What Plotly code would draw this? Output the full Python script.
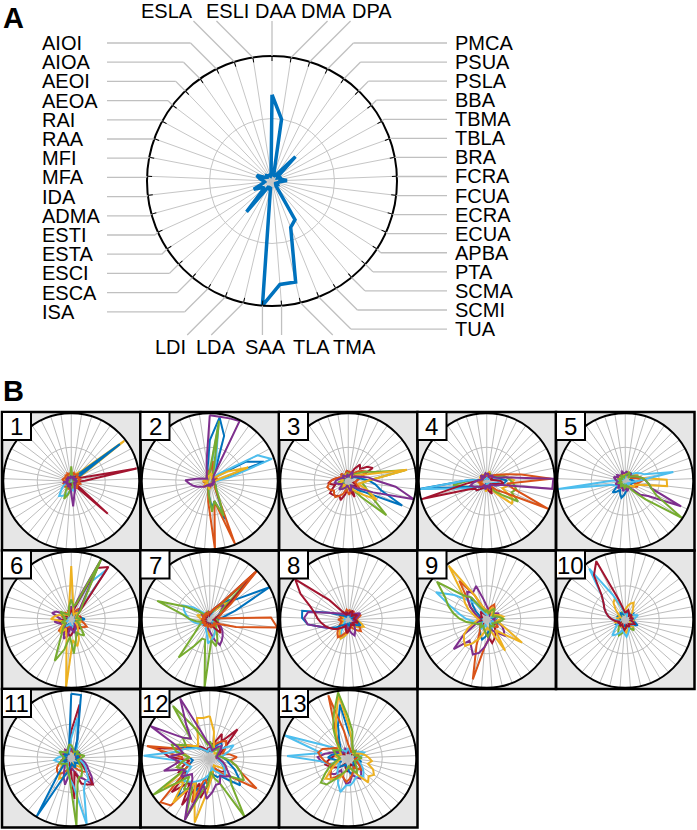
import math
import plotly.graph_objects as go

W, H = 697, 830
FONT = "Liberation Sans, Arial, sans-serif"

# ---------------- data ----------------
spokes = ["DAA", "DMA", "DPA", "PMCA", "PSUA", "PSLA", "BBA", "TBMA", "TBLA", "BRA",
          "FCRA", "FCUA", "ECRA", "ECUA", "APBA", "PTA", "SCMA", "SCMI", "TUA", "TMA",
          "TLA", "SAA", "LDA", "LDI", "ISA", "ESCA", "ESCI", "ESTA", "ESTI", "ADMA",
          "IDA", "MFA", "MFI", "RAA", "RAI", "AEOA", "AEOI", "AIOA", "AIOI", "ESLA", "ESLI"]

top_labels = ["ESLA", "ESLI", "DAA", "DMA", "DPA"]
right_labels = ["PMCA", "PSUA", "PSLA", "BBA", "TBMA", "TBLA", "BRA", "FCRA", "FCUA",
                "ECRA", "ECUA", "APBA", "PTA", "SCMA", "SCMI", "TUA"]
bottom_labels = ["LDI", "LDA", "SAA", "TLA", "TMA"]
left_labels = ["AIOI", "AIOA", "AEOI", "AEOA", "RAI", "RAA", "MFI", "MFA", "IDA", "ADMA",
               "ESTI", "ESTA", "ESCI", "ESCA", "ISA"]

panel_a_values = [0.69, 0.50, 0.04, 0.05, 0.06, 0.27, 0.06, 0.05, 0.08, 0.07,
                  0.12, 0.06, 0.05, 0.04, 0.05, 0.04, 0.05, 0.36, 0.40, 0.83,
                  0.83, 1.00, 0.05, 0.06, 0.05, 0.32, 0.08, 0.10, 0.16, 0.08,
                  0.06, 0.07, 0.10, 0.13, 0.06, 0.05, 0.06, 0.05, 0.05, 0.04, 0.05]

panel_numbers = ["1", "2", "3", "4", "5", "6", "7", "8", "9", "10", "11", "12", "13"]

# colour keys: b=blue o=orange y=yellow p=purple g=green c=cyan r=red ; values in hundredths
cluster_1 = [
    ("y", [10,12,8,10,14,20,98,15,12,10,8,12,10,9,11,8,10,12,9,8,10,7,9,11,8,10,12,9,8,11,10,9,12,8,10,9,11,8,10,9,12]),
    ("b", [5,6,4,5,8,12,90,10,6,5,4,6,5,4,6,5,4,5,6,4,5,6,4,5,7,5,4,6,5,4,5,6,4,5,6,4,5,6,4,5,6]),
    ("r", [6,5,7,6,5,8,10,12,15,98,20,8,6,5,10,72,8,6,5,7,6,5,8,6,5,7,6,5,8,6,7,5,6,8,5,7,6,5,7,6,5]),
    ("o", [12,10,13,11,12,14,10,12,11,13,10,12,14,11,10,12,13,11,10,12,11,13,10,12,11,10,12,13,11,12,10,11,13,12,10,11,12,10,13,11,12]),
    ("c", [4,5,3,4,5,4,3,5,4,3,4,5,6,4,5,8,6,10,12,15,10,14,18,22,25,28,20,15,10,8,6,5,4,5,4,3,5,4,3,4,5]),
    ("g", [22,8,6,5,4,5,4,6,5,4,5,4,6,5,4,6,5,4,6,8,10,12,20,28,15,8,6,5,4,5,4,6,5,4,5,6,4,5,6,5,8]),
    ("p", [8,6,5,7,6,5,6,7,5,6,8,7,6,5,7,6,8,10,15,20,37,12,8,6,10,8,6,7,5,8,12,6,5,7,6,8,5,7,6,5,7]),
]
cluster_2 = [
    ("b", [60,95,70,20,10,8,12,60,85,15,8,6,5,8,10,12,15,20,60,30,40,20,10,8,6,5,4,6,5,4,6,5,4,6,5,4,6,5,4,8,20]),
    ("c", [10,85,30,12,8,10,20,80,97,30,10,6,5,4,6,5,4,6,5,8,10,12,8,6,5,4,6,5,4,6,5,4,6,5,4,6,5,4,6,5,8]),
    ("o", [12,30,15,8,6,5,8,10,12,8,6,5,4,6,8,10,12,20,100,30,100,30,10,8,6,10,12,8,6,5,10,8,6,5,4,6,5,8,10,12,15]),
    ("g", [15,90,20,10,8,6,5,8,6,5,4,6,5,8,10,12,15,25,55,30,45,20,10,8,6,5,8,6,5,4,6,5,4,6,5,8,6,5,4,6,10]),
    ("y", [8,12,10,6,5,8,10,30,60,12,8,6,5,8,6,5,4,6,5,8,10,12,8,6,5,8,12,6,5,4,6,10,8,6,5,4,6,5,4,6,8]),
    ("p", [97,96,97,99,10,8,6,5,7,6,5,8,6,5,7,6,5,8,6,5,7,6,5,8,6,9,12,15,20,25,30,36,20,12,8,6,5,8,10,15,30]),
]
cluster_3 = [
    ("r", [15,12,10,20,30,25,35,41,20,15,12,10,8,12,15,10,8,12,25,15,10,12,20,30,25,28,30,32,25,20,30,25,20,15,10,12,15,10,8,12,15]),
    ("o", [12,15,10,12,15,20,25,30,20,15,12,10,12,15,20,15,12,10,12,15,20,15,12,20,25,30,28,25,30,32,28,25,20,15,12,10,15,12,10,12,15]),
    ("b", [8,6,10,12,8,6,10,12,15,20,30,40,50,87,30,20,10,8,6,10,12,8,6,10,12,8,10,12,8,10,12,8,6,10,8,6,10,8,6,10,8]),
    ("g", [12,10,8,10,12,15,20,30,40,85,30,20,25,30,40,75,30,15,10,8,12,10,8,12,10,15,12,10,8,12,15,10,8,12,10,8,10,12,8,10,12]),
    ("y", [8,10,12,8,6,10,15,20,30,88,30,20,15,30,50,30,20,15,10,8,12,10,8,6,10,12,8,10,12,15,10,8,12,10,8,10,12,8,10,12,8]),
    ("p", [10,8,12,15,10,8,12,15,20,30,40,70,100,40,20,15,10,8,12,15,10,8,6,10,12,15,18,12,10,15,20,18,15,12,10,8,12,10,8,6,10]),
]
cluster_4 = [
    ("y", [10,12,15,10,8,12,15,20,25,30,40,35,30,25,45,50,25,15,12,10,12,15,10,8,12,10,8,12,10,8,12,15,10,8,12,10,8,12,10,8,12]),
    ("g", [6,8,10,12,10,8,10,15,25,30,35,40,45,40,55,30,20,10,8,6,8,10,8,6,8,10,12,15,20,30,50,25,10,8,6,8,10,8,6,8,6]),
    ("b", [6,8,10,6,5,8,10,12,15,20,30,25,20,15,10,8,6,8,10,6,5,8,6,5,8,10,12,15,20,30,100,30,10,8,6,5,8,6,5,8,6]),
    ("c", [6,5,8,6,5,8,6,10,12,15,20,15,10,8,6,5,8,6,5,8,6,5,8,10,12,15,20,20,25,40,98,30,10,8,6,5,8,6,5,8,6]),
    ("r", [8,10,12,8,6,10,12,8,6,10,20,25,15,10,8,6,10,12,20,15,10,8,6,10,12,15,20,20,30,99,30,15,10,8,6,10,12,8,6,10,8]),
    ("o", [8,10,12,8,6,10,15,20,30,52,95,30,40,99,30,20,10,8,6,10,12,8,6,10,8,6,10,12,8,10,12,8,6,10,8,6,10,8,6,10,8]),
    ("p", [10,12,8,6,10,12,10,12,15,30,98,97,20,15,10,8,6,10,12,8,6,10,12,8,6,10,12,15,20,25,20,15,10,8,6,10,12,8,6,10,12]),
]
cluster_5 = [
    ("b", [8,10,12,10,8,10,12,10,8,10,12,15,10,8,10,12,10,8,10,12,15,20,25,20,15,20,25,15,10,8,10,12,10,8,10,12,10,8,10,12,10]),
    ("o", [10,8,12,10,8,15,12,10,15,20,25,20,15,20,15,10,8,12,10,8,12,10,8,12,10,8,12,10,8,12,10,8,12,10,8,12,10,8,12,10,8]),
    ("y", [10,12,15,10,8,12,15,20,20,25,61,62,20,15,15,10,8,12,10,8,12,10,8,6,10,8,6,10,8,6,10,8,6,10,12,8,6,10,8,6,10]),
    ("c", [6,8,10,12,15,15,20,25,30,72,20,10,8,6,5,8,6,5,8,6,5,8,6,5,8,6,10,12,15,20,99,20,8,6,5,8,6,5,8,6,5]),
    ("p", [12,15,10,12,15,10,12,15,20,25,30,35,40,90,40,30,15,10,12,15,10,12,15,10,8,12,15,10,12,15,10,12,15,18,12,15,12,10,12,15,12]),
    ("g", [8,10,12,15,10,8,12,15,20,25,30,35,40,50,99,40,20,10,8,6,8,10,8,6,8,10,8,6,8,10,8,6,8,10,8,6,8,10,8,6,8]),
]
cluster_6 = [
    ("b", [12,10,8,12,15,10,8,12,10,15,20,12,10,8,12,15,10,20,25,15,10,12,15,10,8,12,15,10,8,12,15,10,8,12,10,8,12,10,8,12,10]),
    ("o", [15,12,10,15,20,15,12,10,15,12,10,15,20,25,20,15,12,10,15,12,10,15,12,10,15,20,25,15,12,10,15,12,10,15,12,10,15,12,10,15,12]),
    ("c", [10,12,20,60,90,15,10,8,6,8,10,8,6,8,10,8,6,8,10,12,10,8,6,8,10,12,15,10,8,6,8,10,8,6,8,10,8,6,8,10,8]),
    ("r", [15,12,20,85,95,20,10,8,12,15,10,8,12,10,15,20,15,10,12,15,20,25,20,15,20,25,15,10,12,15,20,10,8,12,10,8,12,10,8,12,10]),
    ("p", [20,15,30,99,25,15,10,8,12,10,8,12,10,8,12,10,8,12,15,20,15,10,25,30,20,15,12,10,15,20,25,15,20,30,25,15,12,10,8,12,15]),
    ("y", [79,20,10,8,12,15,10,8,12,10,8,12,15,10,8,12,15,20,30,40,30,100,30,20,15,25,20,15,10,12,15,30,25,20,15,12,10,8,12,10,20]),
    ("g", [30,20,25,99,30,20,12,10,8,12,15,10,8,12,15,20,30,25,20,30,50,25,45,65,30,20,15,10,12,15,10,8,12,10,15,20,12,10,8,12,20]),
]
cluster_7 = [
    ("y", [8,10,12,15,20,40,20,15,12,10,8,10,12,10,8,10,12,15,20,25,30,20,15,12,10,8,10,12,10,8,10,12,15,20,15,12,10,8,10,12,10]),
    ("p", [10,12,15,20,25,30,20,15,12,10,8,10,12,15,20,25,30,35,40,30,20,15,12,10,8,10,12,10,8,10,12,10,8,10,12,15,12,10,8,10,12]),
    ("b", [6,8,10,20,30,40,50,100,40,20,10,8,6,8,10,8,6,8,10,8,6,8,10,8,6,8,10,8,6,8,10,8,6,8,10,8,6,8,10,8,6]),
    ("c", [6,8,10,20,30,90,30,15,10,8,6,8,10,8,6,8,10,15,20,25,30,35,20,15,10,8,10,12,15,20,25,30,35,40,44,30,15,10,8,6,8]),
    ("g", [8,10,12,20,25,95,20,20,10,8,10,12,10,8,10,12,15,20,30,40,30,100,30,30,45,72,30,20,15,12,20,30,40,82,40,20,10,8,10,12,10]),
    ("r", [8,10,15,20,30,99,30,20,10,8,6,8,10,12,15,20,25,15,10,8,6,8,10,8,6,8,10,8,6,8,10,8,6,8,10,8,6,8,10,8,6]),
    ("o", [10,12,15,20,30,100,40,20,15,12,90,100,40,15,10,8,12,10,8,12,10,8,12,10,8,12,10,8,12,10,8,12,10,8,12,10,8,12,10,8,12]),
]
cluster_8 = [
    ("c", [6,8,6,8,10,8,6,8,10,8,6,8,10,15,20,15,10,8,6,8,10,15,25,30,20,10,8,6,8,10,8,6,8,10,8,6,8,10,8,6,8]),
    ("y", [8,10,12,10,8,10,12,10,8,10,12,15,20,25,20,15,12,10,8,10,15,20,25,30,25,20,15,12,10,8,10,12,10,8,10,12,10,8,10,12,10]),
    ("o", [12,15,10,12,15,10,12,15,20,15,12,10,12,15,20,25,20,15,12,10,12,15,20,25,30,25,20,15,12,10,12,15,10,12,15,10,12,15,10,12,15]),
    ("b", [6,8,10,8,6,8,10,8,6,8,10,12,15,20,15,10,8,6,8,10,8,6,8,10,8,10,12,20,30,40,60,68,69,30,15,10,8,6,8,10,8]),
    ("p", [10,8,12,10,8,12,15,20,15,12,10,8,12,10,8,12,15,20,25,20,15,12,10,8,12,15,20,25,30,40,60,65,60,30,20,15,12,10,8,12,10]),
    ("r", [8,10,12,15,10,8,12,15,10,8,10,12,15,10,8,12,10,8,10,12,15,20,15,10,12,15,20,25,30,35,40,45,50,60,80,98,40,15,10,8,10]),
]
cluster_9 = [
    ("b", [8,10,12,10,8,10,12,10,8,10,12,15,20,15,12,10,8,10,12,15,20,25,30,25,20,15,12,10,8,10,12,10,8,10,12,20,30,40,20,10,8]),
    ("r", [10,12,15,10,8,10,12,15,20,15,12,10,8,10,12,15,20,25,30,35,25,20,15,12,10,8,10,12,15,10,8,10,12,10,8,10,12,15,10,8,10]),
    ("o", [12,15,20,25,20,15,12,10,12,15,12,10,12,15,20,15,12,10,15,20,30,40,90,40,20,15,12,10,12,15,12,10,12,15,20,30,40,70,40,20,15]),
    ("c", [10,8,12,10,8,12,10,8,12,15,12,10,8,12,10,8,12,15,20,15,12,10,8,12,15,12,10,8,12,15,20,30,40,55,85,60,40,30,15,10,8]),
    ("p", [20,15,12,10,8,12,15,20,15,12,10,15,20,25,30,35,25,20,15,20,30,40,50,55,45,40,65,40,20,15,12,10,12,15,20,30,40,50,45,52,30]),
    ("y", [12,10,15,20,15,10,12,15,20,25,20,15,20,30,62,30,20,53,20,15,12,15,20,30,40,50,45,40,30,20,15,12,15,20,30,40,50,97,40,20,15]),
    ("g", [15,12,10,15,20,15,12,10,15,20,25,20,15,12,10,15,12,10,15,20,25,20,15,12,10,15,12,10,15,20,30,40,50,60,70,92,50,40,20,15,12]),
]
cluster_10 = [
    ("g", [8,10,12,10,8,10,12,10,8,10,12,10,8,10,12,15,20,15,12,10,12,15,20,25,20,15,12,10,8,10,12,10,8,10,12,10,8,10,12,10,8]),
    ("b", [10,12,10,8,10,12,15,12,10,8,10,12,15,20,15,12,10,12,15,12,10,8,10,12,10,8,10,12,15,12,10,8,10,12,10,8,10,12,10,8,10]),
    ("y", [15,20,25,28,20,15,10,12,10,8,10,12,10,8,12,15,12,10,12,15,20,15,12,10,12,10,8,10,12,15,12,10,12,10,8,12,20,30,35,20,12]),
    ("c", [8,10,8,6,8,10,12,15,20,15,10,8,10,12,15,10,8,10,15,20,25,20,15,20,25,30,20,15,10,8,10,20,25,30,35,40,50,92,40,20,10]),
    ("r", [10,12,15,12,10,8,12,10,8,12,10,8,12,15,12,10,8,12,10,8,12,15,12,10,8,12,10,8,12,10,15,20,25,30,35,40,50,80,96,30,15]),
]
cluster_11 = [
    ("y", [10,12,10,8,10,12,10,8,10,12,10,8,10,12,15,20,15,12,10,8,10,12,20,30,35,25,20,15,12,10,8,10,12,10,8,10,12,10,8,10,12]),
    ("o", [12,10,12,15,10,12,10,12,15,12,10,12,15,20,25,30,25,20,15,12,10,12,15,20,25,30,28,25,20,15,12,10,12,15,12,10,12,15,12,10,12]),
    ("p", [15,12,10,12,15,10,8,12,10,8,12,15,20,25,30,40,50,35,30,20,15,20,40,30,20,15,12,10,12,15,12,10,12,15,12,10,12,15,12,10,12]),
    ("r", [40,80,30,15,10,12,15,10,8,12,10,8,12,15,20,30,50,45,40,20,60,15,10,8,12,10,8,12,10,8,12,10,8,12,10,8,12,10,8,12,15]),
    ("c", [30,60,30,20,10,8,10,12,10,8,10,12,15,20,25,30,40,40,50,100,40,30,20,15,10,8,10,12,15,20,25,20,15,10,8,10,12,10,8,10,15]),
    ("b", [95,94,30,12,10,8,12,15,10,8,12,10,8,12,15,10,8,12,15,10,8,12,20,30,100,30,15,10,8,12,10,8,12,10,8,12,10,8,12,15,20]),
    ("g", [20,15,12,10,12,15,10,12,15,20,15,12,10,12,15,20,25,30,30,40,100,30,20,15,12,10,12,15,20,15,12,10,12,15,20,15,12,10,12,15,20]),
]
cluster_12 = [
    ("b", [10,12,15,20,30,25,20,15,12,15,20,25,30,40,50,60,40,30,30,25,20,30,40,50,40,75,50,40,40,30,25,30,40,50,35,25,20,15,12,10,12]),
    ("r", [15,20,25,40,30,59,30,20,15,12,10,12,15,20,25,30,25,20,15,20,30,40,60,40,80,45,75,40,50,40,30,60,80,40,40,30,25,20,15,12,15]),
    ("o", [12,15,20,25,30,35,30,25,20,30,40,30,40,50,82,40,30,20,15,20,25,40,30,70,40,90,97,50,40,30,50,40,94,40,40,30,20,15,12,10,12]),
    ("y", [62,40,20,15,12,10,12,15,12,10,12,15,20,25,30,20,15,12,15,20,30,50,97,60,40,85,50,80,40,50,40,30,40,50,40,30,25,30,40,62,60]),
    ("c", [15,12,10,12,15,20,25,40,30,20,15,12,15,20,25,30,35,25,20,15,20,25,30,35,40,45,50,40,30,35,40,97,50,40,30,25,20,15,12,10,12]),
    ("g", [25,20,15,12,15,20,15,12,10,15,20,30,40,50,60,40,50,100,40,30,20,40,50,97,50,60,40,100,40,50,40,30,50,60,40,50,40,94,50,30,20]),
    ("p", [20,15,12,15,20,25,20,15,12,10,12,15,20,25,30,40,35,30,40,40,50,60,40,98,60,40,35,50,40,70,45,60,40,50,99,50,40,60,98,40,25]),
]
cluster_13 = [
    ("r", [10,8,10,12,10,8,10,12,15,12,10,12,15,12,10,12,15,12,10,12,15,20,15,12,10,15,20,25,30,35,30,25,20,15,12,10,8,10,12,10,8]),
    ("b", [40,30,20,15,12,10,12,15,12,10,12,15,20,15,12,10,12,15,20,25,20,15,12,10,12,15,20,15,12,15,20,30,25,20,15,12,15,20,30,50,80]),
    ("p", [12,10,8,10,12,15,12,10,12,15,12,10,12,15,20,25,30,35,30,25,35,38,30,25,20,30,35,30,25,30,40,45,35,25,20,15,12,10,12,15,12]),
    ("c", [15,12,10,8,10,12,15,20,25,20,15,12,15,20,25,30,35,30,30,35,40,40,51,40,30,25,20,15,20,30,40,90,40,100,40,25,20,15,12,10,12]),
    ("o", [20,15,12,10,12,15,12,10,12,15,12,10,12,15,20,25,20,15,20,25,30,35,30,25,30,40,35,30,25,30,35,40,45,40,30,25,20,25,40,97,40]),
    ("y", [50,30,20,15,12,10,12,15,20,25,30,35,30,40,45,40,46,30,20,15,12,15,20,30,35,40,45,30,20,15,12,15,20,15,12,15,20,30,40,60,95]),
    ("g", [60,40,20,15,12,15,12,10,12,15,20,15,12,10,12,15,20,25,20,15,12,15,20,25,35,50,54,40,30,20,15,12,15,20,25,20,15,30,50,70,98]),
]
clusters = [cluster_1, cluster_2, cluster_3, cluster_4, cluster_5, cluster_6, cluster_7,
            cluster_8, cluster_9, cluster_10, cluster_11, cluster_12, cluster_13]

COLORS = {"b": "#0072BD", "o": "#D95319", "y": "#EDB120", "p": "#7E2F8E",
          "g": "#77AC30", "c": "#4DBEEE", "r": "#A2142F"}

# ---------------- helpers ----------------
N = len(spokes)
theta = [i * 360.0 / N for i in range(N)]


def px(x):
    return x / W


def py(y):
    return 1 - y / H


def polar_layout(cx, cy, r, ticks, gw, gc):
    return dict(
        domain=dict(x=[px(cx - r), px(cx + r)], y=[py(cy + r), py(cy - r)]),
        bgcolor="white",
        angularaxis=dict(direction="clockwise", rotation=90, thetaunit="degrees",
                         tickmode="array", tickvals=theta, showticklabels=False,
                         ticks="inside" if ticks else "", ticklen=4, tickwidth=1,
                         tickcolor="black", showgrid=True, gridcolor=gc,
                         gridwidth=gw, showline=True, linecolor="black", linewidth=2),
        radialaxis=dict(range=[0, 1], showticklabels=False, ticks="", showline=False,
                        tickmode="array", tickvals=[0.5], showgrid=True,
                        gridcolor=gc, gridwidth=gw),
    )


fig = go.Figure()
shapes = []
annotations = []
layout_polars = {}

# ---------------- panel A ----------------
ACX, ACY, AR = 272, 181, 125
layout_polars["polar"] = polar_layout(ACX, ACY, AR, True, 1.3, "#c6c6c6")
fig.add_trace(go.Scatterpolar(r=panel_a_values + [panel_a_values[0]], theta=theta + [theta[0]],
                              mode="lines", line=dict(color="#0072BD", width=3.5),
                              subplot="polar", showlegend=False, hoverinfo="skip"))

LEAD = dict(color="#c0c0c0", width=1.3)


def circle_pt(i):
    a = math.radians(theta[i])
    return ACX + AR * math.sin(a), ACY - AR * math.cos(a), math.sin(a)


def line(x0, y0, x1, y1):
    shapes.append(dict(type="line", xref="paper", yref="paper", x0=px(x0), y0=py(y0),
                       x1=px(x1), y1=py(y1), line=LEAD, layer="above"))


top_x = [167, 228, 276, 323, 372]
bottom_x = [170, 216, 265, 311, 355]
for lab, tx in zip(top_labels, top_x):
    x0, y0, s = circle_pt(spokes.index(lab))
    ye = 21
    if abs(s) < 0.1:
        line(x0, y0, x0, ye)
    else:
        line(x0, y0, x0 + math.copysign(y0 - ye, s), ye)
    annotations.append(dict(x=px(tx), y=py(11), text=lab, showarrow=False, xanchor="center",
                            yanchor="middle", font=dict(size=20, family=FONT, color="black")))
for lab, tx in zip(bottom_labels, bottom_x):
    x0, y0, s = circle_pt(spokes.index(lab))
    ye = 335
    if abs(s) < 0.1:
        line(x0, y0, x0, ye)
    else:
        line(x0, y0, x0 + math.copysign(ye - y0, s), ye)
    annotations.append(dict(x=px(tx), y=py(347), text=lab, showarrow=False, xanchor="center",
                            yanchor="middle", font=dict(size=20, family=FONT, color="black")))
for k, lab in enumerate(right_labels):
    ly = 43 + k * 19.07
    x0, y0, s = circle_pt(spokes.index(lab))
    xe = x0 + abs(y0 - ly)
    line(x0, y0, xe, ly)
    line(xe, ly, 447, ly)
    annotations.append(dict(x=px(453), y=py(ly), text=lab, showarrow=False, xanchor="left",
                            yanchor="middle", font=dict(size=20, family=FONT, color="black")))
for k, lab in enumerate(left_labels):
    ly = 43 + k * 19.2
    x0, y0, s = circle_pt(spokes.index(lab))
    xe = x0 - abs(y0 - ly)
    line(x0, y0, xe, ly)
    line(xe, ly, 107, ly)
    annotations.append(dict(x=px(40), y=py(ly), text=lab, showarrow=False, xanchor="left",
                            yanchor="middle", font=dict(size=20, family=FONT, color="black")))

annotations.append(dict(x=px(14), y=py(18), text="<b>A</b>", showarrow=False, xanchor="center",
                        yanchor="middle", font=dict(size=29, family=FONT, color="black")))
annotations.append(dict(x=px(13), y=py(391), text="<b>B</b>", showarrow=False, xanchor="center",
                        yanchor="middle", font=dict(size=29, family=FONT, color="black")))

# ---------------- panel B ----------------
CELL = 138.5
X0, Y0 = 2, 412
for k, (num, lines_) in enumerate(zip(panel_numbers, clusters)):
    row, col = divmod(k, 5)
    left = X0 + col * CELL
    top = Y0 + row * CELL
    cx, cy = left + CELL / 2, top + CELL / 2
    name = "polar%d" % (k + 2)
    layout_polars[name] = polar_layout(cx, cy, 68, False, 1.2, "#bcbcbc")
    for ck, vals in lines_:
        rv = [v / 100 for v in vals]
        fig.add_trace(go.Scatterpolar(r=rv + [rv[0]], theta=theta + [theta[0]], mode="lines",
                                      line=dict(color=COLORS[ck], width=2), subplot=name,
                                      showlegend=False, hoverinfo="skip"))
    shapes.append(dict(type="rect", xref="paper", yref="paper", x0=px(left), x1=px(left + CELL),
                       y0=py(top + CELL), y1=py(top), fillcolor="#e6e6e6",
                       line=dict(width=0), layer="below"))
    shapes.append(dict(type="rect", xref="paper", yref="paper", x0=px(left), x1=px(left + CELL),
                       y0=py(top + CELL), y1=py(top), fillcolor="rgba(0,0,0,0)",
                       line=dict(width=2.5, color="black"), layer="above"))
    shapes.append(dict(type="rect", xref="paper", yref="paper", x0=px(left), x1=px(left + 29),
                       y0=py(top + 28), y1=py(top), fillcolor="white",
                       line=dict(width=2, color="black"), layer="above"))
    annotations.append(dict(x=px(left + 14.5), y=py(top + 14.5), text=num, showarrow=False,
                            xanchor="center", yanchor="middle",
                            font=dict(size=24, family=FONT, color="black")))

fig.update_layout(width=W, height=H, margin=dict(l=0, r=0, t=0, b=0),
                  paper_bgcolor="white", plot_bgcolor="white", showlegend=False,
                  shapes=shapes, annotations=annotations, **layout_polars)

fig.write_html("out.html", config={"displayModeBar": False},
               post_script="document.body.style.margin='0px';document.body.style.overflow='hidden';")
